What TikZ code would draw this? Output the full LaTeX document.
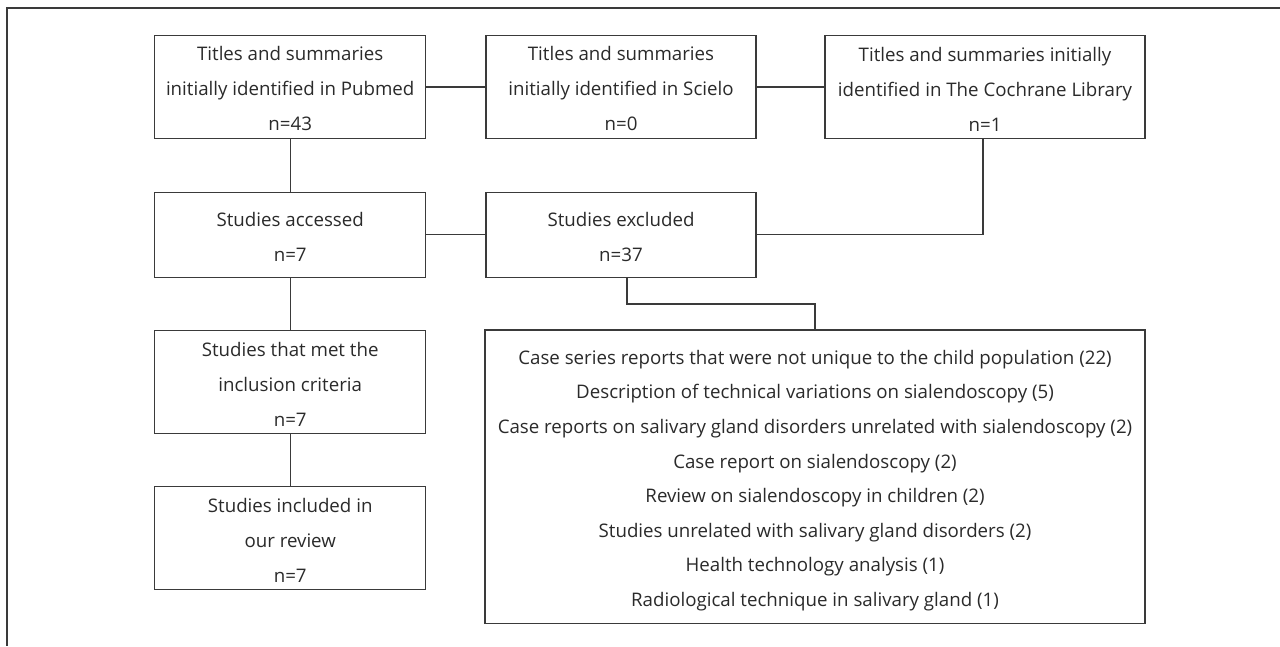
\documentclass[tikz,border=0pt]{standalone}
\usepackage{fontspec}
\setmainfont{Open Sans}
\definecolor{linec}{HTML}{3A3A3A}
\definecolor{textc}{HTML}{2A2A2A}
\newcommand{\topstrut}[1]{\rule{0pt}{#1}}
\begin{document}
\begin{tikzpicture}[x=1pt,y=-1pt,
  box/.style={draw=linec, line width=1.3pt, rectangle, inner sep=0pt, align=center,
    text=textc, font={\fontsize{18.7}{35}\selectfont}},
  conn/.style={draw=linec, line width=1.3pt}]
\useasboundingbox (0,0) rectangle (1280,646);
\draw[conn] (1280,8) -- (7,8) -- (7,646);
\node[box, minimum width=271pt, minimum height=102.6pt] (pub) at (290.2,87) {\topstrut{18pt}Titles and summaries\\initially identified in Pubmed\\n=43};
\node[box, minimum width=270pt, minimum height=102.6pt] (sci) at (621,87) {\topstrut{18pt}Titles and summaries\\initially identified in Scielo\\n=0};
\node[box, minimum width=320pt, minimum height=102.6pt] (coch) at (985,87) {\topstrut{18pt}Titles and summaries initially\\identified in The Cochrane Library\\n=1};
\node[box, minimum width=271pt, minimum height=85pt] (acc) at (290.2,234.8) {\topstrut{18pt}Studies accessed\\n=7};
\node[box, minimum width=270pt, minimum height=85pt] (exc) at (621,234.8) {\topstrut{18pt}Studies excluded\\n=37};
\node[box, minimum width=271pt, minimum height=102.6pt] (met) at (290.2,382) {\topstrut{18pt}Studies that met the\\inclusion criteria\\n=7};
\node[box, minimum width=271pt, minimum height=102.6pt] (inc) at (290.2,538) {\topstrut{18pt}Studies included in\\our review\\n=7};
\node[box, minimum width=660pt, minimum height=293.3pt, font={\fontsize{18.7}{34.6}\selectfont}] (big) at (815,476.7) {\topstrut{22pt}Case series reports that were not unique to the child population (22)\\Description of technical variations on sialendoscopy (5)\\Case reports on salivary gland disorders unrelated with sialendoscopy (2)\\Case report on sialendoscopy (2)\\Review on sialendoscopy in children (2)\\Studies unrelated with salivary gland disorders (2)\\Health technology analysis (1)\\Radiological technique in salivary gland (1)};
\draw[conn] (pub.east) -- (sci.west);
\draw[conn] (sci.east) -- (coch.west);
\draw[conn] (pub.south) -- (acc.north);
\draw[conn] (acc.east) -- (exc.west);
\draw[conn] ([xshift=-2pt]coch.south) |- (exc.east);
\draw[conn] (acc.south) -- (met.north);
\draw[conn] (met.south) -- (inc.north);
\draw[conn] ([xshift=6pt]exc.south) -- ++(0,26) -| (big.north);
\end{tikzpicture}
\end{document}
